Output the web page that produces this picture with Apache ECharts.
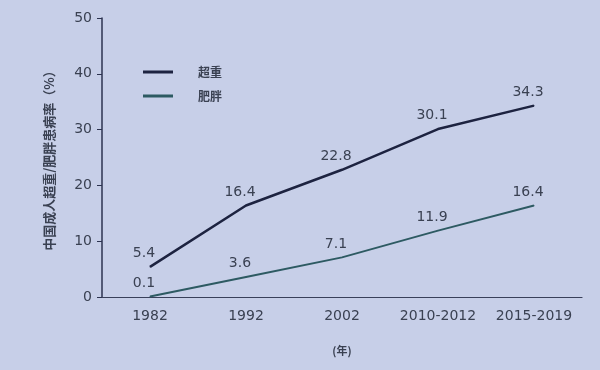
<!DOCTYPE html>
<html><head><meta charset="utf-8">
<script src="https://cdn.jsdelivr.net/npm/echarts@6/dist/echarts.min.js"></script>
<style>html,body{margin:0;padding:0;background:#c7cfe8;}#c{width:600px;height:370px;}</style>
</head><body><div id="c"></div>
<script>
const categories = ['1982', '1992', '2002', '2010-2012', '2015-2019'];
const overweight = [5.4, 16.4, 22.8, 30.1, 34.3];
const obesity = [0.1, 3.6, 7.1, 11.9, 16.4];
const yTicks = [0, 10, 20, 30, 40, 50];

const textColor = '#3a4152';
const numFont = '"DejaVu Sans", "Noto Sans CJK SC", sans-serif';
const cjkFont = '"Noto Sans CJK SC", sans-serif';
const chart = echarts.init(document.getElementById('c'));
const labelCfg = { show: true, position: 'top', distance: 6, color: textColor, fontSize: 14, fontFamily: numFont, offset: [-6, 0] };
chart.setOption({
  backgroundColor: '#c7cfe8',
  textStyle: { fontFamily: numFont, color: textColor },
  grid: { left: 102, right: 18, top: 18, bottom: 73 },
  legend: {
    orient: 'vertical', left: 138, top: 61, itemGap: 12,
    icon: 'rect', itemWidth: 30, itemHeight: 3,
    textStyle: { color: textColor, fontSize: 12, fontWeight: 'bold', fontFamily: cjkFont, padding: [0, 0, 0, 20] },
    data: ['超重', '肥胖']
  },
  xAxis: {
    type: 'category', data: categories, boundaryGap: true,
    name: '(年)', nameLocation: 'middle', nameGap: 48,
    nameTextStyle: { fontSize: 11, color: textColor, fontFamily: cjkFont, fontWeight: 'bold' },
    axisLine: { lineStyle: { color: '#39405a', width: 1.2 } },
    axisTick: { show: false },
    axisLabel: { color: textColor, fontSize: 14, margin: 12, fontFamily: numFont, interval: 0 }
  },
  yAxis: {
    type: 'value', min: yTicks[0], max: yTicks[yTicks.length - 1], interval: 10,
    name: '中国成人超重/肥胖患病率（%）', nameLocation: 'middle', nameGap: 46,
    nameTextStyle: { fontSize: 13, color: textColor, fontFamily: cjkFont, fontWeight: 'bold' },
    axisLine: { show: true, lineStyle: { color: '#2c3350', width: 1.5 } },
    axisTick: { show: true, length: 5, lineStyle: { color: '#2c3350' } },
    splitLine: { show: false },
    axisLabel: { color: textColor, fontSize: 14, margin: 10, fontFamily: numFont }
  },
  series: [
    {
      name: '超重', type: 'line', data: overweight,
      symbol: 'circle', symbolSize: 1, showSymbol: true,
      itemStyle: { color: '#1d2340' },
      lineStyle: { width: 2.5, color: '#1d2340' },
      label: labelCfg
    },
    {
      name: '肥胖', type: 'line', data: obesity,
      symbol: 'circle', symbolSize: 1, showSymbol: true,
      itemStyle: { color: '#2d5a62' },
      lineStyle: { width: 2, color: '#2d5a62' },
      label: labelCfg
    }
  ]
});
</script></body></html>
